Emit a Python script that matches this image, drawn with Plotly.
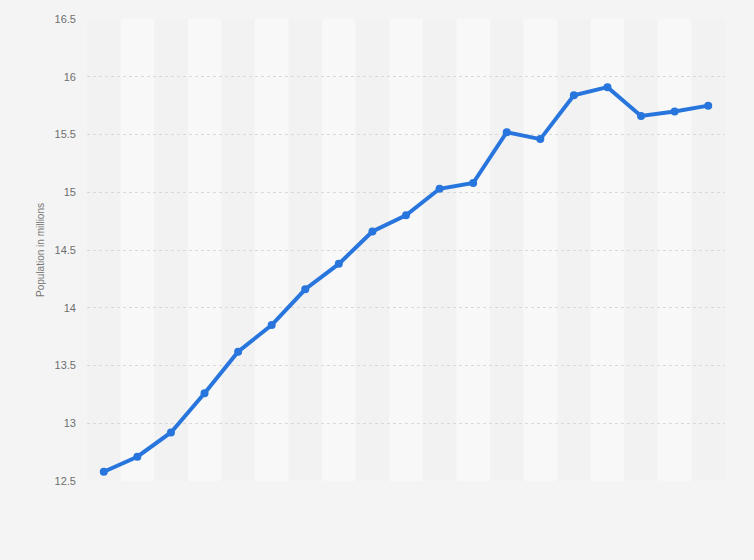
import plotly.graph_objects as go

categories = [str(y) for y in range(2000, 2019)]
population = [12.58, 12.71, 12.92, 13.26, 13.62, 13.85, 14.16, 14.38, 14.66, 14.80,
              15.03, 15.08, 15.52, 15.46, 15.84, 15.91, 15.66, 15.70, 15.75]
y_ticks = [12.5, 13, 13.5, 14, 14.5, 15, 15.5, 16, 16.5]
y_tick_labels = ["12.5", "13", "13.5", "14", "14.5", "15", "15.5", "16", "16.5"]

fig = go.Figure()
fig.add_trace(go.Scatter(
    x=categories, y=population, mode="lines+markers",
    line=dict(color="#2876dd", width=4),
    marker=dict(color="#2876dd", size=8),
    hoverinfo="x+y", showlegend=False,
))

shapes = []
for i in range(1, len(categories), 2):
    shapes.append(dict(type="rect", xref="x", yref="paper",
                       x0=i - 0.5, x1=i + 0.5, y0=0, y1=1,
                       fillcolor="#f8f8f8", line=dict(width=0), layer="below"))

fig.update_layout(
    width=754, height=560,
    margin=dict(l=87, r=29, t=19, b=79),
    paper_bgcolor="#f4f4f4",
    plot_bgcolor="#f2f2f2",
    shapes=shapes,
    font=dict(family="Arial, Liberation Sans, sans-serif", color="#666666"),
    xaxis=dict(type="category", range=[-0.5, len(categories) - 0.5],
               showticklabels=False, showgrid=False, zeroline=False,
               showline=False, ticks=""),
    yaxis=dict(range=[12.5, 16.5], tickvals=y_ticks, ticktext=y_tick_labels,
               showgrid=True, gridcolor="#d9d9d9", griddash="dot", gridwidth=1,
               zeroline=False, showline=False, ticks="",
               tickfont=dict(size=11, color="#6e6e6e"), ticklabelstandoff=10,
               title=dict(text="Population in millions",
                          font=dict(size=10, color="#777777"), standoff=8)),
)

fig.write_html("out.html", config={"displayModeBar": False},
               post_script="document.body.style.margin='0';document.body.style.overflow='hidden';")
